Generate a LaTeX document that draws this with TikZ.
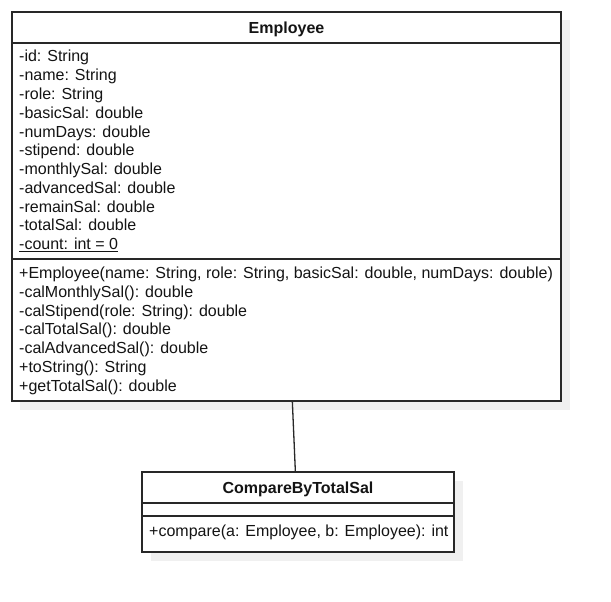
\documentclass[tikz,border=0pt]{standalone}
\usepackage{fontspec}
\setmainfont{Liberation Sans}
\usetikzlibrary{calc}
\definecolor{shadowgray}{RGB}{240,240,240}
\definecolor{edge}{RGB}{40,40,40}
\definecolor{txt}{RGB}{20,20,20}
\begin{document}
\begin{tikzpicture}[x=1pt,y=-1pt,
  classbox/.style={draw=edge,line width=1.3pt,fill=white,rectangle,inner sep=0pt},
  member/.style={anchor=base west,inner sep=0pt,text=txt,font=\fontsize{16}{18.75}\selectfont},
  classtitle/.style={anchor=base,inner sep=0pt,text=txt,font=\fontsize{16}{18.75}\selectfont\bfseries},
  sepline/.style={draw=edge,line width=1.3pt},
  assoc/.style={draw=edge,line width=1.3pt}]
\useasboundingbox (0,0) rectangle (611,602);
% shadows
\fill[shadowgray] (20,20) rectangle (570,410);
\fill[shadowgray] (151,481) rectangle (463,561);
% Employee class
\node[classbox,minimum width=549pt,minimum height=389pt] (emp) at (286.5,206.5) {};
\draw[sepline] (emp.west |- 0,43) -- (emp.east |- 0,43);
\draw[sepline] (emp.west |- 0,259) -- (emp.east |- 0,259);
\node[classtitle] (empt) at (286.5,33.5) {Employee};
\foreach \t [count=\i from 0] in {
  {-id: String},{-name: String},{-role: String},{-basicSal: double},
  {-numDays: double},{-stipend: double},{-monthlySal: double},
  {-advancedSal: double},{-remainSal: double},{-totalSal: double}}
  \node[member] (ea\i) at (19,{62+18.75*\i}) {\t};
\node[member] (ea10) at (19,{62+18.75*10}) {\underline{-count: int = 0}};
\foreach \t [count=\i from 0] in {
  {+Employee(name: String, role: String, basicSal: double, numDays: double)},
  {-calMonthlySal(): double},{-calStipend(role: String): double},
  {-calTotalSal(): double},{-calAdvancedSal(): double},
  {+toString(): String},{+getTotalSal(): double}}
  \node[member] (em\i) at (19,{278.5+18.75*\i}) {\t};
% CompareByTotalSal class
\node[classbox,minimum width=312pt,minimum height=80pt] (cmp) at (298,512) {};
\draw[sepline] (cmp.west |- 0,503) -- (cmp.east |- 0,503);
\draw[sepline] (cmp.west |- 0,516) -- (cmp.east |- 0,516);
\node[classtitle] (cmpt) at (298,493) {CompareByTotalSal};
\node[member] (cm0) at (149,536) {+compare(a: Employee, b: Employee): int};
% association
\draw[assoc] ($(emp.south west)+(281,0)$) -- ($(cmp.north west)+(154,0)$);
\end{tikzpicture}
\end{document}
